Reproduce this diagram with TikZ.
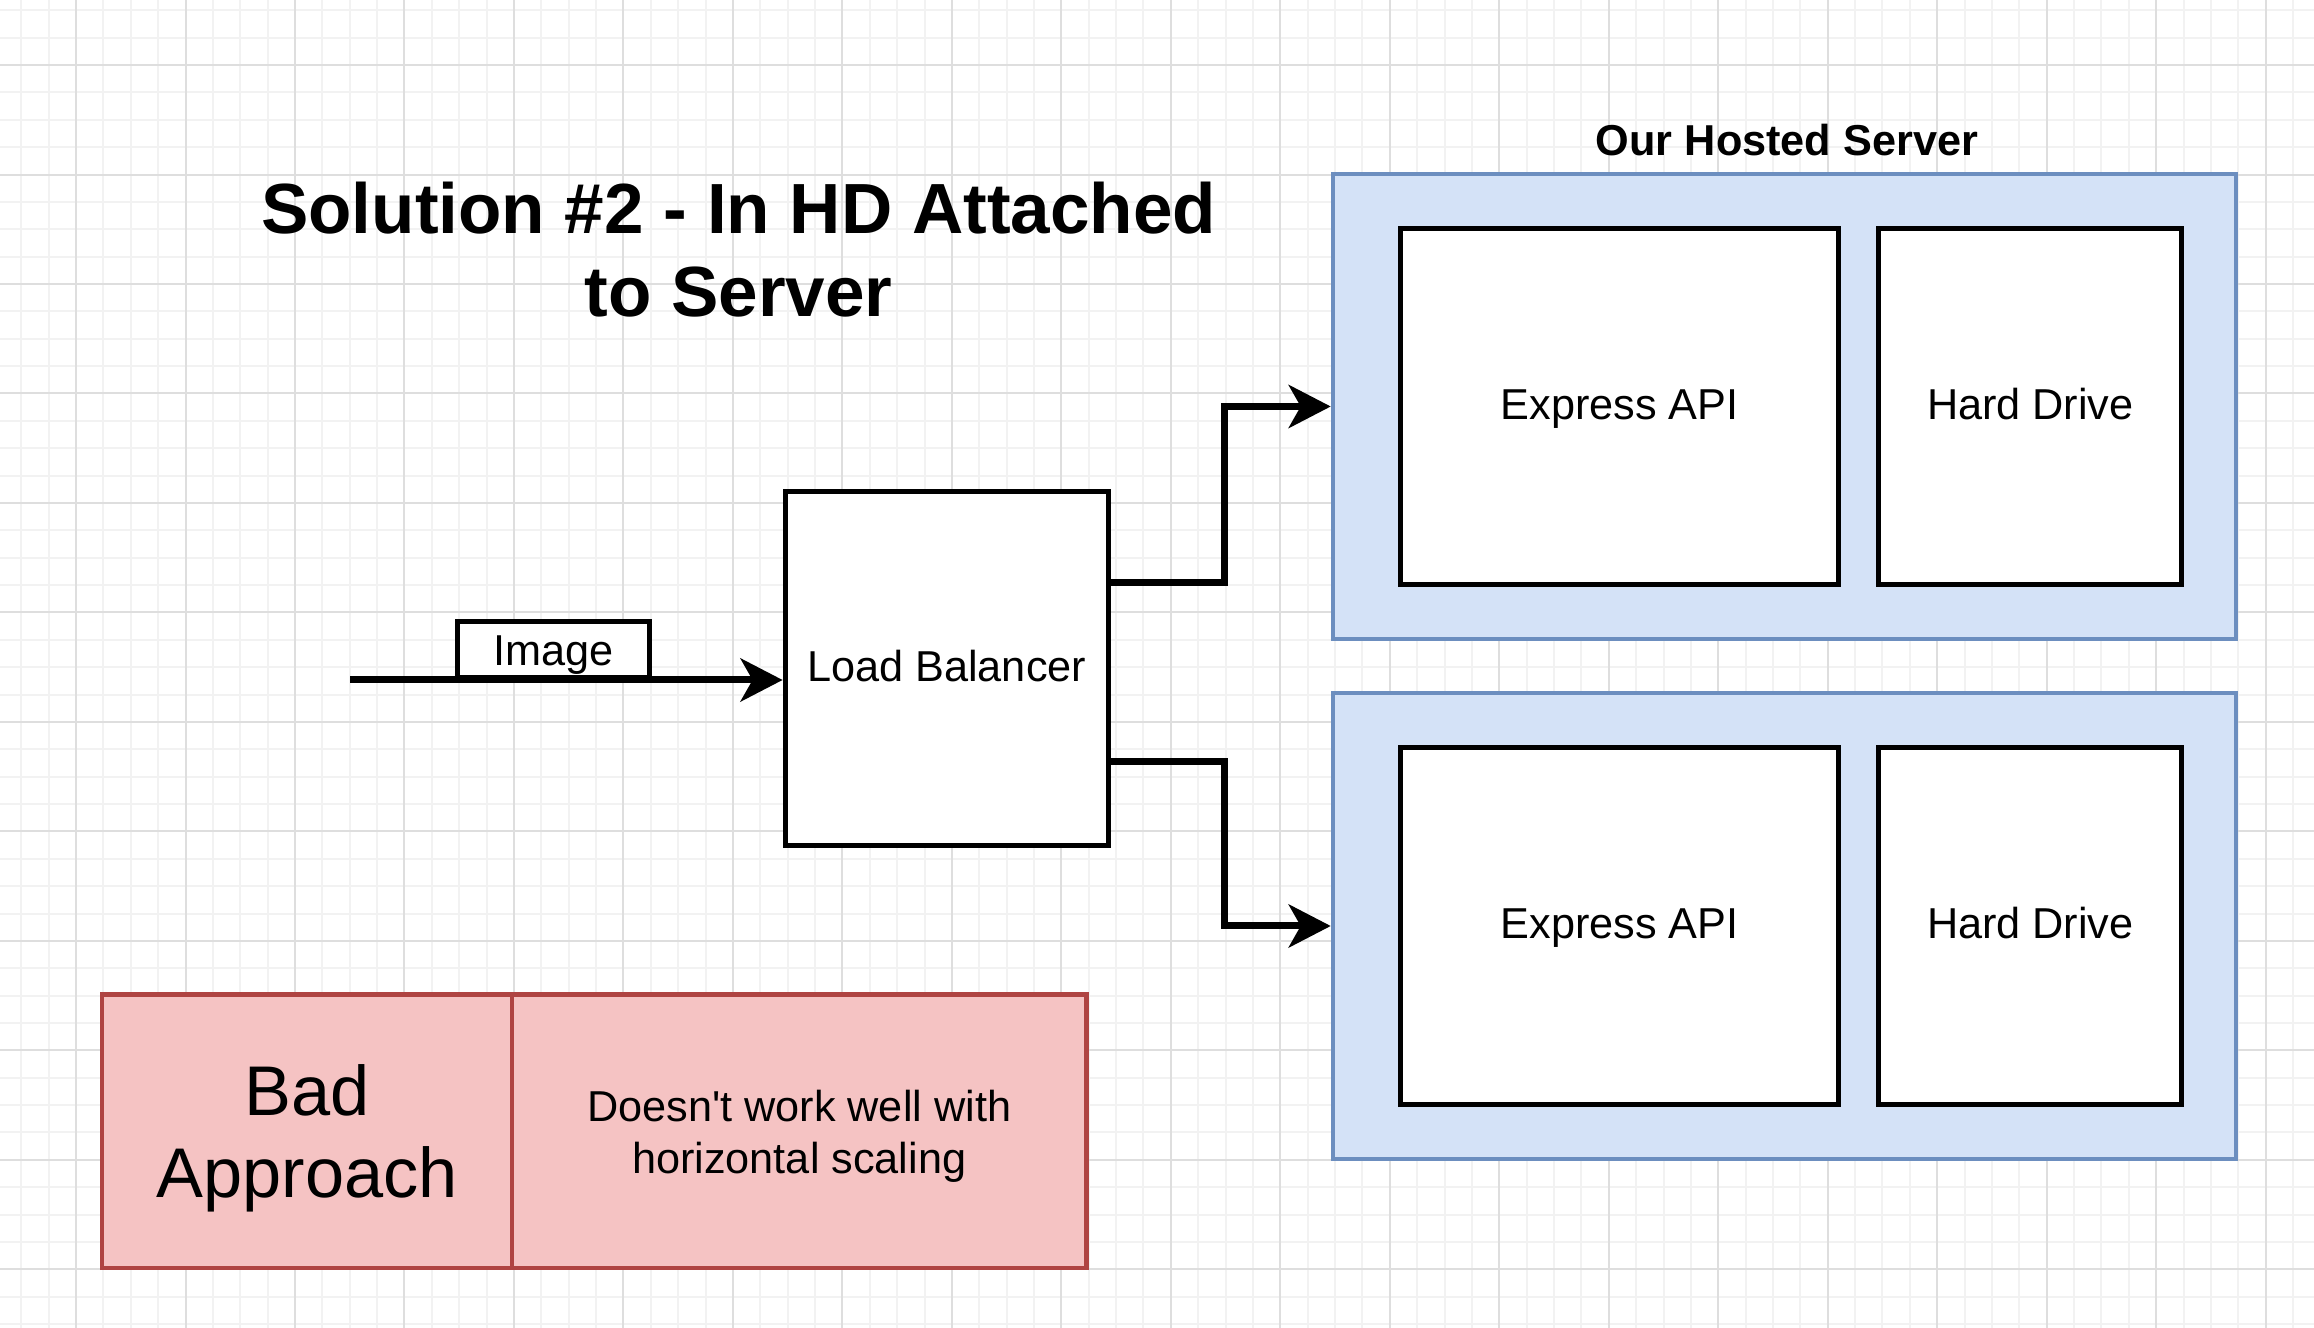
\documentclass[tikz,border=0pt]{standalone}
\usepackage{fontspec}
\setmainfont{Liberation Sans}
\usetikzlibrary{positioning,arrows.meta,calc}
\definecolor{srvfill}{RGB}{212,226,247}
\definecolor{srvline}{RGB}{108,142,191}
\definecolor{badfill}{RGB}{245,195,195}
\definecolor{badline}{RGB}{175,68,66}
\definecolor{gridminor}{RGB}{242,242,242}
\definecolor{gridmajor}{RGB}{222,222,222}
\newcommand{\bodyfont}{\fontsize{12.3}{14.7}\selectfont}
\tikzset{
  srv/.style={draw=srvline, fill=srvfill, line width=0.4mm, minimum width=9.03cm,
              minimum height=4.65cm, inner sep=0pt},
  part/.style={draw, fill=white, line width=0.5mm, inner sep=0pt, text height=0.8em,
               text depth=0.07em, minimum height=3.56cm, font=\bodyfont},
  lbbox/.style={part, minimum width=3.23cm, minimum height=3.54cm},
  flow/.style={-{Stealth[length=4.2mm, width=4.3mm, inset=1.2mm]}, line width=0.7mm},
  tag/.style={draw, fill=white, line width=0.5mm, minimum width=1.92cm, text height=0.9em,
              text depth=0em, minimum height=0.56cm, inner sep=0pt, font=\bodyfont},
  badcell/.style={draw=badline, fill=badfill, line width=0.45mm, minimum height=2.73cm,
                  inner sep=0pt},
  badtext/.style={align=center, inner sep=0pt},
  hdr/.style={font=\bfseries\bodyfont},
  headline/.style={font=\bfseries\fontsize{20.2}{23.8}\selectfont, align=center}
}

\begin{document}
\begin{tikzpicture}[x=0.01cm, y=-0.01cm]
  \useasboundingbox[fill=white] (0,0) rectangle (2314,1328);
  % grid
  \foreach \gx in {0,...,83}
    \draw[gridminor, line width=0.2mm] ({21.3+27.37*\gx},0) -- ++(0,1328);
  \foreach \gy in {0,...,48}
    \draw[gridminor, line width=0.2mm] (0,{10.3+27.37*\gy}) -- ++(2314,0);
  \foreach \gx in {0,...,20}
    \draw[gridmajor, line width=0.2mm] ({76.04+109.48*\gx},0) -- ++(0,1328);
  \foreach \gy in {0,...,11}
    \draw[gridmajor, line width=0.2mm] (0,{65.04+109.48*\gy}) -- ++(2314,0);

  \node[headline] (title) at (738.6,249.5) {Solution \#2 - In HD Attached\\to Server};

  % servers
  \node[srv] (srvA) at (1784.5,406.5) {};
  \node[srv] (srvB) at (1784.5,926) {};
  \node[hdr] (hosted) at (1787,140) {Our Hosted Server};
  \node[part, minimum width=4.38cm] (apiA) at (1619.6,406.5) {Express API};
  \node[part, minimum width=3.03cm, right=0.35cm of apiA] (hdA) {Hard Drive};
  \node[part, minimum width=4.38cm] (apiB) at (1619.6,926) {Express API};
  \node[part, minimum width=3.03cm, right=0.35cm of apiB] (hdB) {Hard Drive};

  % balancer
  \node[lbbox] (lb) at (946.7,668.5) {Load Balancer};
  \coordinate (src) at (350,680);
  \draw[flow] (src) -- (src -| lb.west);
  \node[tag] (img) at (553.5,649.4) {Image};
  \draw[flow] ($(lb.north east)!0.26!(lb.south east)$) -- ++(114,0) |- (srvA.west);
  \draw[flow] ($(lb.north east)!0.76!(lb.south east)$) -- ++(114,0) |- (srvB.west);

  % verdict
  \node[badcell, minimum width=4.10cm] (bad) at (307,1131.2) {};
  \node[badcell, minimum width=5.74cm] (why) at (799.2,1131.2) {};
  \node[badtext, font=\fontsize{20}{23.5}\selectfont] (badtxt) at ($(bad.center)+(0,7)$)
    {Bad\\Approach};
  \node[badtext, font=\bodyfont] (whytxt) at ($(why.center)+(0,5)$)
    {Doesn\textquotesingle t work well with\\horizontal scaling};
\end{tikzpicture}
\end{document}
